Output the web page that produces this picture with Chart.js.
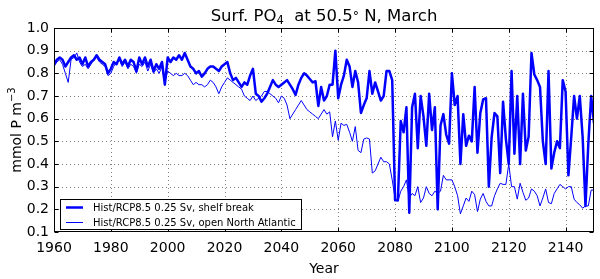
<!DOCTYPE html>
<html>
<head>
<meta charset="utf-8">
<script src="https://cdn.jsdelivr.net/npm/chart.js@4.4.1/dist/chart.umd.min.js"></script>
<style>
  html, body { margin: 0; padding: 0; background: #fff; }
  #wrap { width: 600px; height: 279px; }
</style>
</head>
<body>
<div id="wrap"><canvas id="po4-chart" width="600" height="279"></canvas></div>
<script>
const firstYear = 1960;
const xTicks = [1960, 1980, 2000, 2020, 2040, 2060, 2080, 2100, 2120, 2140];
const yTicks = [0.1, 0.2, 0.3, 0.4, 0.5, 0.6, 0.7, 0.8, 0.9, 1.0];
const seriesLabels = [
  "Hist/RCP8.5 0.25 Sv, shelf break",
  "Hist/RCP8.5 0.25 Sv, open North Atlantic",
];

// annual March values, 1960..2150
const shelfBreak = [
  0.84, 0.86, 0.87, 0.86, 0.83, 0.85, 0.87, 0.88, 0.86, 0.87,
  0.84, 0.87, 0.83, 0.85, 0.86, 0.88, 0.86, 0.85, 0.84, 0.80,
  0.82, 0.85, 0.84, 0.87, 0.84, 0.86, 0.83, 0.86, 0.85, 0.81,
  0.87, 0.84, 0.87, 0.83, 0.86, 0.81, 0.84, 0.82, 0.85, 0.75,
  0.87, 0.85, 0.87, 0.86, 0.88, 0.86, 0.89, 0.86, 0.83, 0.82,
  0.80, 0.81, 0.785, 0.80, 0.82, 0.83, 0.83, 0.82, 0.81, 0.83,
  0.84, 0.85, 0.80, 0.77, 0.78, 0.76, 0.74, 0.76, 0.75, 0.79,
  0.82, 0.71, 0.70, 0.675, 0.69, 0.71, 0.74, 0.77, 0.75, 0.74,
  0.75, 0.76, 0.77, 0.75, 0.73, 0.705, 0.75, 0.78, 0.80, 0.79,
  0.775, 0.76, 0.765, 0.656, 0.74, 0.68, 0.70, 0.75, 0.75, 0.90,
  0.69, 0.75, 0.79, 0.86, 0.83, 0.74, 0.81, 0.76, 0.625, 0.66,
  0.69, 0.81, 0.71, 0.76, 0.72, 0.68, 0.70, 0.81, 0.81, 0.77,
  0.24, 0.24, 0.59, 0.54, 0.65, 0.185, 0.65, 0.71, 0.47, 0.70,
  0.61, 0.48, 0.71, 0.55, 0.65, 0.20, 0.57, 0.62, 0.53, 0.49,
  0.80, 0.66, 0.70, 0.40, 0.62, 0.48, 0.525, 0.50, 0.74, 0.45,
  0.625, 0.685, 0.69, 0.30, 0.52, 0.625, 0.61, 0.36, 0.675, 0.51,
  0.40, 0.81, 0.445, 0.70, 0.40, 0.71, 0.46, 0.52, 0.89, 0.795,
  0.77, 0.74, 0.50, 0.40, 0.81, 0.38, 0.45, 0.50, 0.47, 0.77,
  0.72, 0.35, 0.52, 0.70, 0.60, 0.70, 0.52, 0.215, 0.49, 0.70,
  0.58,
];
const openAtlantic = [
  0.83, 0.85, 0.86, 0.84, 0.80, 0.76, 0.86, 0.87, 0.89, 0.85,
  0.83, 0.84, 0.82, 0.84, 0.86, 0.87, 0.85, 0.84, 0.83, 0.79,
  0.80, 0.83, 0.85, 0.86, 0.83, 0.85, 0.82, 0.84, 0.83, 0.80,
  0.84, 0.83, 0.85, 0.81, 0.84, 0.80, 0.82, 0.80, 0.83, 0.76,
  0.81, 0.80, 0.79, 0.80, 0.79, 0.79, 0.80, 0.79, 0.77, 0.75,
  0.76, 0.75, 0.75, 0.74, 0.75, 0.77, 0.76, 0.74, 0.71, 0.74,
  0.76, 0.78, 0.77, 0.76, 0.75, 0.74, 0.73, 0.70, 0.69, 0.68,
  0.70, 0.68, 0.69, 0.70, 0.72, 0.72, 0.71, 0.70, 0.69, 0.67,
  0.70, 0.69, 0.66, 0.60, 0.62, 0.64, 0.66, 0.68, 0.66, 0.64,
  0.63, 0.62, 0.61, 0.60, 0.62, 0.64, 0.62, 0.63, 0.52, 0.59,
  0.505, 0.58, 0.57, 0.575, 0.54, 0.50, 0.565, 0.46, 0.45, 0.51,
  0.515, 0.51, 0.36, 0.37, 0.40, 0.43, 0.41, 0.41, 0.40, 0.33,
  0.25, 0.235, 0.28, 0.30, 0.33, 0.25, 0.27, 0.26, 0.30, 0.23,
  0.25, 0.30, 0.27, 0.26, 0.28, 0.27, 0.28, 0.35, 0.33, 0.33,
  0.33, 0.30, 0.26, 0.18, 0.215, 0.25, 0.235, 0.28, 0.265, 0.19,
  0.245, 0.27, 0.235, 0.215, 0.215, 0.26, 0.29, 0.315, 0.31, 0.31,
  0.40, 0.30, 0.30, 0.245, 0.315, 0.275, 0.24, 0.25, 0.29, 0.28,
  0.26, 0.215, 0.25, 0.29, 0.23, 0.225, 0.27, 0.29, 0.31, 0.30,
  0.29, 0.30, 0.30, 0.245, 0.23, 0.22, 0.205, 0.215, 0.215, 0.285,
  0.285,
];

const years = shelfBreak.map((_, i) => firstYear + i);
const FONT = "'DejaVu Sans', 'Liberation Sans', sans-serif";
const BLUE = "#0000ff";

// draws a run of text pieces [text, size, dy] starting at x
function drawPieces(ctx, pieces, x, y) {
  pieces.forEach(([txt, size, dy]) => {
    ctx.font = `${size}px ${FONT}`;
    ctx.fillText(txt, x, y + dy);
    x += ctx.measureText(txt).width;
  });
}
function piecesWidth(ctx, pieces) {
  return pieces.reduce((w, [txt, size]) => {
    ctx.font = `${size}px ${FONT}`;
    return w + ctx.measureText(txt).width;
  }, 0);
}

const decorations = {
  id: "decorations",
  beforeDatasetsDraw(chart) {
    const { ctx, chartArea: a, scales: { x, y } } = chart;
    ctx.save();
    ctx.strokeStyle = "#7f7f7f";
    ctx.lineWidth = 1;
    ctx.setLineDash([1, 3]);
    ctx.beginPath();
    xTicks.forEach((t) => {
      const px = Math.round(x.getPixelForValue(t)) + 0.5;
      if (px < a.left + 2 || px > a.right - 2) return;
      ctx.moveTo(px, a.top);
      ctx.lineTo(px, a.bottom);
    });
    yTicks.forEach((t) => {
      const py = Math.round(y.getPixelForValue(t)) + 0.5;
      if (py < a.top + 2 || py > a.bottom - 2) return;
      ctx.moveTo(a.left, py);
      ctx.lineTo(a.right, py);
    });
    ctx.stroke();
    ctx.restore();
  },
  afterDatasetsDraw(chart) {
    const { ctx, chartArea: a, scales: { x, y } } = chart;
    ctx.save();
    // axes frame and inward ticks
    ctx.strokeStyle = "#000";
    ctx.lineWidth = 1;
    const L = Math.round(a.left) + 0.5, R = Math.round(a.right) - 0.5;
    const T = Math.round(a.top) + 0.5, B = Math.round(a.bottom) - 0.5;
    ctx.strokeRect(L, T, R - L, B - T);
    ctx.beginPath();
    xTicks.forEach((t) => {
      const px = Math.round(x.getPixelForValue(t)) + 0.5;
      ctx.moveTo(px, B); ctx.lineTo(px, B - 4);
      ctx.moveTo(px, T); ctx.lineTo(px, T + 4);
    });
    yTicks.forEach((t) => {
      const py = Math.round(y.getPixelForValue(t)) + 0.5;
      ctx.moveTo(L, py); ctx.lineTo(L + 4, py);
      ctx.moveTo(R, py); ctx.lineTo(R - 4, py);
    });
    ctx.stroke();

    // legend, lower left inside the axes
    const bx = 60.5, by = 199.5, bw = 241, bh = 30;
    ctx.fillStyle = "#fff";
    ctx.fillRect(bx, by, bw, bh);
    ctx.strokeRect(bx, by, bw, bh);
    const rows = [
      { y: 207.5, width: 2.5 },
      { y: 222.5, width: 1 },
    ];
    ctx.font = `10px ${FONT}`;
    ctx.textBaseline = "middle";
    rows.forEach((r, i) => {
      ctx.strokeStyle = BLUE;
      ctx.lineWidth = r.width;
      ctx.beginPath();
      ctx.moveTo(66, r.y);
      ctx.lineTo(83, r.y);
      ctx.stroke();
      ctx.fillStyle = "#000";
      ctx.fillText(seriesLabels[i], 93, r.y + 0.5);
    });
    ctx.restore();
  },
  afterDraw(chart) {
    const { ctx, chartArea: a } = chart;
    const cx = (a.left + a.right) / 2;
    ctx.save();
    ctx.fillStyle = "#000";
    ctx.textBaseline = "alphabetic";
    ctx.textAlign = "left";

    // title with subscript 4
    const title = [
      ["Surf. PO", 16.5, 0],
      ["4", 11.5, 3],
      ["  at 50.5", 16.5, 0],
      ["\u00b0", 12.5, -1],
      [" N, March", 16.5, 0],
    ];
    drawPieces(ctx, title, cx - piecesWidth(ctx, title) / 2, 21);

    // x axis label
    ctx.font = `14px ${FONT}`;
    ctx.textAlign = "center";
    ctx.fillText("Year", cx, 273);

    // y axis label with superscript
    ctx.textAlign = "left";
    const ylab = [
      ["mmol P m", 14, 0],
      ["\u22123", 10, -6],
    ];
    ctx.translate(21, (a.top + a.bottom) / 2);
    ctx.rotate(-Math.PI / 2);
    drawPieces(ctx, ylab, -piecesWidth(ctx, ylab) / 2, 0);
    ctx.restore();
  },
};

const ctx = document.getElementById("po4-chart").getContext("2d");
new Chart(ctx, {
  type: "line",
  data: {
    datasets: [
      {
        label: seriesLabels[0],
        data: years.map((yr, i) => ({ x: yr, y: shelfBreak[i] })),
        borderColor: BLUE,
        borderWidth: 2.5,
        borderJoinStyle: "round",
        pointRadius: 0,
        tension: 0,
        fill: false,
      },
      {
        label: seriesLabels[1],
        data: years.map((yr, i) => ({ x: yr, y: openAtlantic[i] })),
        borderColor: BLUE,
        borderWidth: 1,
        borderJoinStyle: "round",
        pointRadius: 0,
        tension: 0,
        fill: false,
      },
    ],
  },
  options: {
    responsive: false,
    animation: false,
    devicePixelRatio: 1,
    layout: { padding: { left: 0, right: 6, top: 28, bottom: 0 } },
    plugins: {
      legend: { display: false },
      tooltip: { enabled: false },
    },
    scales: {
      x: {
        type: "linear",
        min: 1960,
        max: 2150,
        afterBuildTicks: (s) => { s.ticks = xTicks.map((v) => ({ value: v })); },
        afterFit: (s) => { s.height = 47; },
        grid: { display: false, drawTicks: false },
        border: { display: false },
        ticks: {
          color: "#000",
          font: { family: FONT, size: 14 },
          padding: 8,
          maxRotation: 0,
          autoSkip: false,
          callback: (v) => String(v),
        },
      },
      y: {
        min: 0.1,
        max: 1.0,
        afterBuildTicks: (s) => { s.ticks = yTicks.map((v) => ({ value: v })); },
        afterFit: (s) => { s.width = 54; },
        grid: { display: false, drawTicks: false },
        border: { display: false },
        ticks: {
          color: "#000",
          font: { family: FONT, size: 14 },
          padding: 5,
          callback: (v) => v.toFixed(1),
        },
      },
    },
  },
  plugins: [decorations],
});
</script>
</body>
</html>
